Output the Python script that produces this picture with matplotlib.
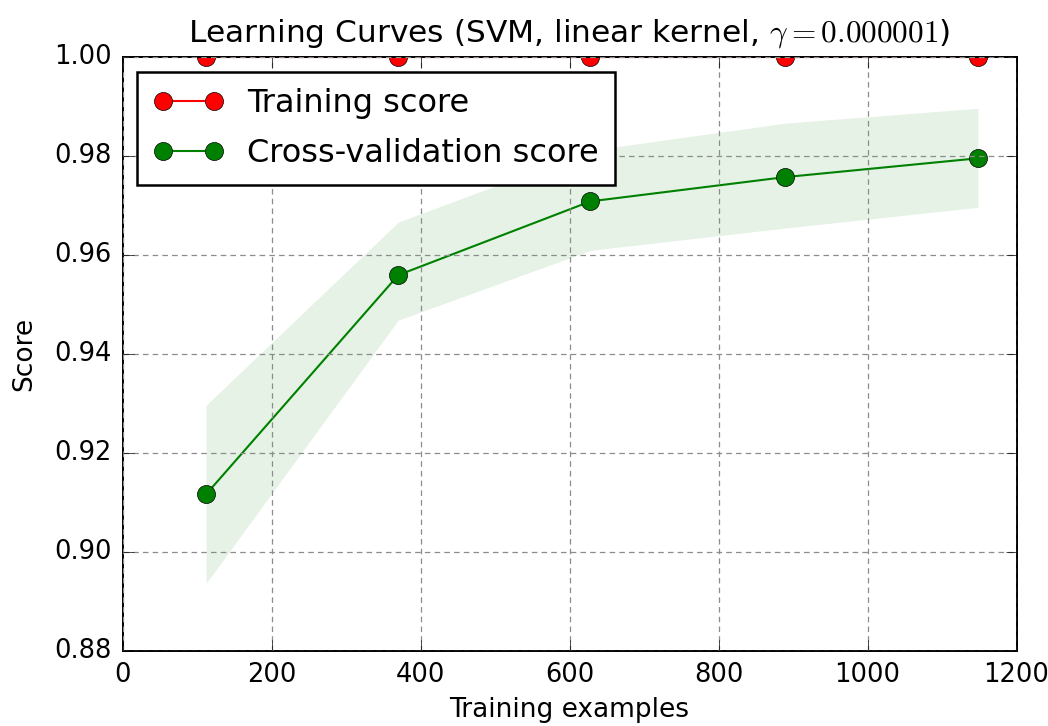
import numpy as np
import matplotlib
matplotlib.use("Agg")
import matplotlib.pyplot as plt

# learning curve data
train_sizes = [112, 370, 628, 889, 1148]
train_mean = [1.0, 1.0, 1.0, 1.0, 1.0]
train_std = [0.0, 0.0, 0.0, 0.0, 0.0]
test_mean = [0.9117, 0.9560, 0.9709, 0.9758, 0.9796]
test_upper = [0.9297, 0.9667, 0.9812, 0.9867, 0.9897]
test_lower = [0.8937, 0.9469, 0.9610, 0.9655, 0.9697]

plt.style.use("classic")
plt.rcParams["font.family"] = ["DejaVu Sans"]

fig = plt.figure(figsize=(10.48, 7.26), dpi=100)
ax = fig.add_axes([0.117, 0.103, 0.853, 0.818])

tm = np.array(train_mean)
ts = np.array(train_std)
ax.fill_between(train_sizes, tm - ts, tm + ts, alpha=0.1, color="r", linewidth=0)
ax.fill_between(train_sizes, test_lower, test_upper, alpha=0.1, color="g", linewidth=0)
ax.plot(train_sizes, train_mean, "o-", color="r", label="Training score",
        markersize=13, linewidth=1.5)
ax.plot(train_sizes, test_mean, "o-", color="g", label="Cross-validation score",
        markersize=13, linewidth=1.5)

ax.set_xlim(0, 1200)
ax.set_ylim(0.88, 1.00)
ax.set_xticks(np.arange(0, 1201, 200))
ax.set_yticks(np.arange(0.88, 1.001, 0.02))
ax.set_yticklabels(["%.2f" % v for v in np.arange(0.88, 1.001, 0.02)])
ax.tick_params(labelsize=18.5, direction="in", length=8, pad=8,
               top=True, right=True)
ax.grid(True, linestyle=(0, (4, 3)), color="0.55", linewidth=0.9)
for s in ax.spines.values():
    s.set_linewidth(1.4)

ax.set_title(r"Learning Curves (SVM, linear kernel, $\gamma=0.000001$)", fontsize=22.5, y=1.015)
ax.set_xlabel("Training examples", fontsize=19, labelpad=6)
ax.set_ylabel("Score", fontsize=19, labelpad=12)

leg = ax.legend(loc="upper left", fontsize=23, numpoints=2, borderaxespad=0.45,
                handlelength=2.2, handletextpad=0.75, labelspacing=0.6,
                borderpad=0.5)
leg.get_frame().set_linewidth(1.8)

fig.savefig("out.png", dpi=100)
